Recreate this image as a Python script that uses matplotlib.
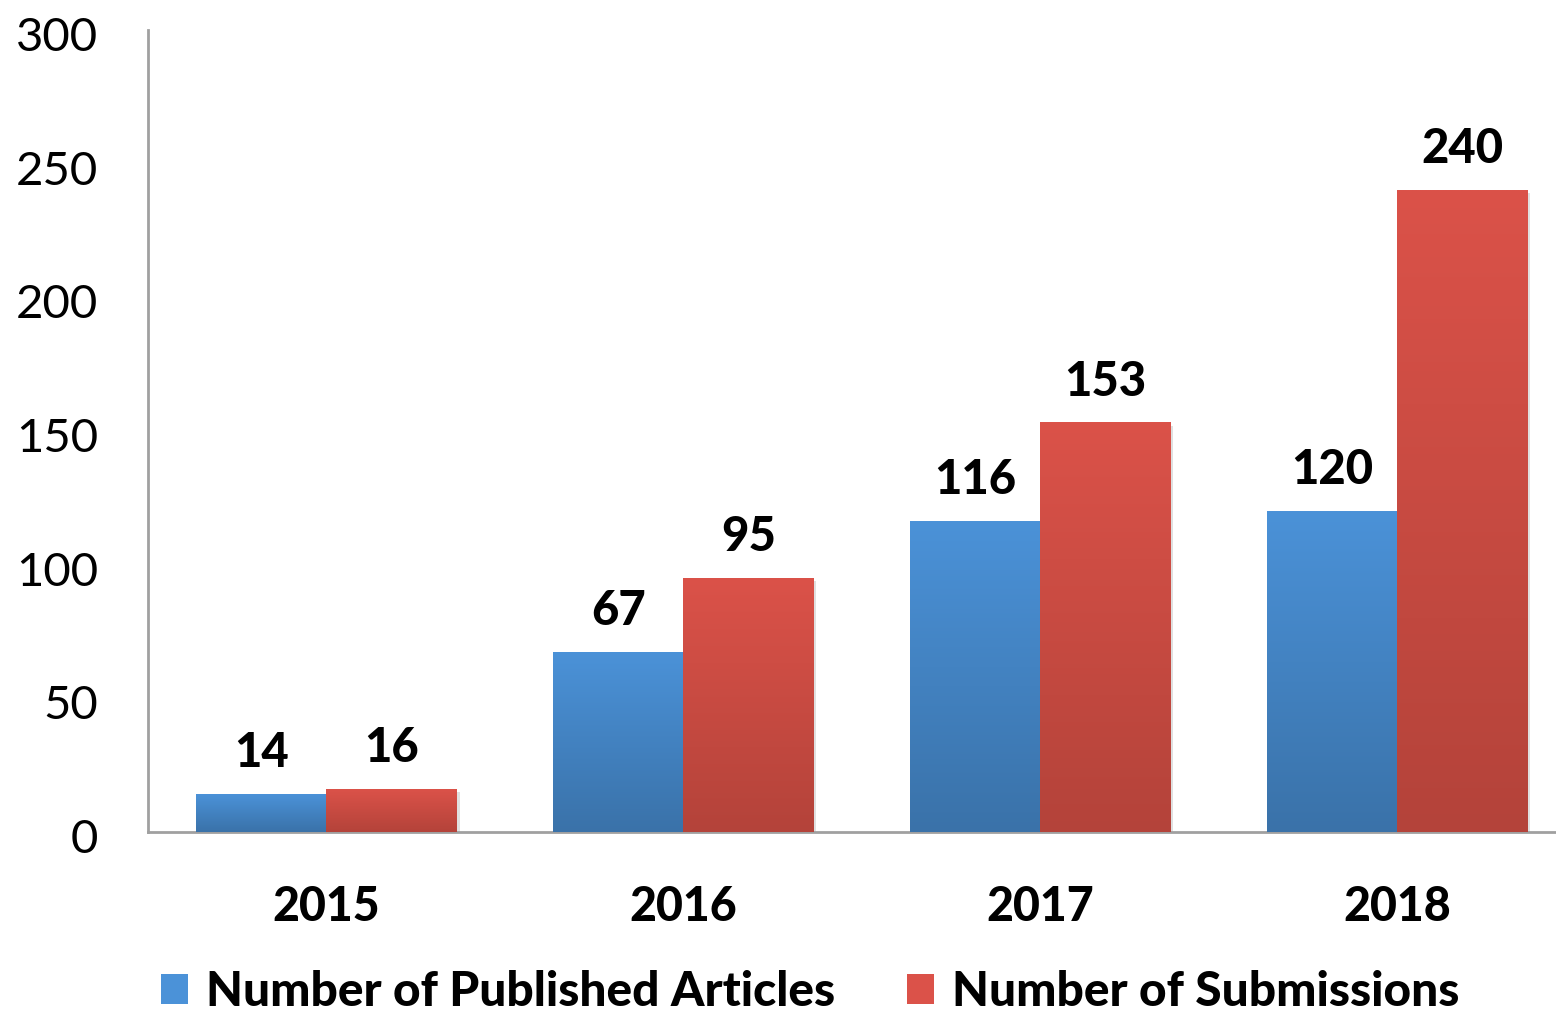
import matplotlib.pyplot as plt
import numpy as np
from matplotlib.colors import LinearSegmentedColormap
from matplotlib.patches import Patch
import matplotlib.patheffects as pe
import matplotlib.transforms as mtransforms

# data
years = ['2015', '2016', '2017', '2018']
published = [14, 67, 116, 120]
submissions = [16, 95, 153, 240]
labels = ['Number of Published Articles', 'Number of Submissions']

blue_top, blue_bot = '#4b92d8', '#3a72a9'
red_top, red_bot = '#db5249', '#b4433a'

plt.rcParams['font.family'] = ['Lato', 'DejaVu Sans']

fig = plt.figure(figsize=(15.56, 10.17), dpi=100)
ax = fig.add_axes([148 / 1556, 185 / 1017, 1 - 148 / 1556, 802 / 1017])

x = np.arange(len(years))
w = 0.365


def grad_bars(xs, vals, top, bot):
    bars = ax.bar(xs, vals, w, color=bot, zorder=2,
                  path_effects=[pe.SimplePatchShadow(offset=(2, -2), shadow_rgbFace='#000000', alpha=0.12),
                                pe.Normal()])
    cmap = LinearSegmentedColormap.from_list('g', [bot, top])
    grad = np.linspace(0, 1, 256).reshape(-1, 1)
    for b in bars:
        x0, y0 = b.get_x(), b.get_y()
        ax.imshow(grad, extent=(x0, x0 + b.get_width(), y0, y0 + b.get_height()),
                  origin='lower', cmap=cmap, aspect='auto', zorder=3)
    return bars


b1 = grad_bars(x - w / 2, published, blue_top, blue_bot)
b2 = grad_bars(x + w / 2, submissions, red_top, red_bot)

for bars, vals in [(b1, published), (b2, submissions)]:
    for b, v in zip(bars, vals):
        ax.annotate(str(v), (b.get_x() + b.get_width() / 2, v), xytext=(0, 14),
                    textcoords='offset points', ha='center', va='bottom',
                    fontsize=34, fontweight='black', zorder=4)

ax.set_xlim(-0.5, 3.445)
ax.set_ylim(0, 300)
ax.set_yticks(range(0, 301, 50))
ax.set_xticks(x)
ax.set_xticklabels(years, fontsize=33.5, fontweight='black')
ax.tick_params(axis='y', labelsize=34, length=0, pad=36)
ax.tick_params(axis='x', length=0, pad=38)
shift = mtransforms.ScaledTranslation(0, -4 / 100, fig.dpi_scale_trans)
for lbl in ax.get_yticklabels():
    lbl.set_horizontalalignment('right')
    lbl.set_transform(lbl.get_transform() + shift)
for s in ['top', 'right']:
    ax.spines[s].set_visible(False)
for s in ['left', 'bottom']:
    ax.spines[s].set_color('#a0a0a0')
    ax.spines[s].set_linewidth(2)

handles = [Patch(facecolor=blue_top, edgecolor='none'), Patch(facecolor=red_top, edgecolor='none')]
fig.legend(handles, labels, loc='center', bbox_to_anchor=(810 / 1556, 1 - 992 / 1017), ncol=2,
           frameon=False, prop={'size': 34.5, 'weight': 'black'}, handlelength=0.56, handleheight=0.56,
           handletextpad=0.38, columnspacing=1.5)

fig.savefig('out.png', dpi=100)
